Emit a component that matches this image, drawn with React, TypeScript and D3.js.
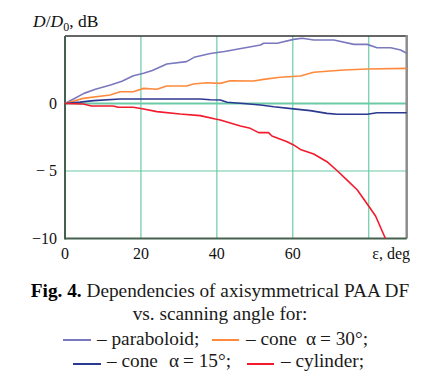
import React from 'react';
import * as d3 from 'd3';

// scanning angle (deg) and D/D0 (dB)
const paraboloidX = [0, 2, 5, 8, 12, 15, 18, 20.7, 23, 26.8, 32, 34, 38.3, 42, 46, 51.5, 52.3, 55.9, 60.2, 62.5, 65.5, 70.8, 76.1, 79.6, 82.2, 85.8, 88.4, 90];
const paraboloidY = [0, 0.3, 0.75, 1.05, 1.37, 1.65, 2.05, 2.24, 2.45, 2.93, 3.1, 3.42, 3.7, 3.85, 4.05, 4.33, 4.46, 4.46, 4.75, 4.83, 4.7, 4.7, 4.38, 4.38, 4.13, 4.13, 3.96, 3.72];

const cone30X = [0, 4.8, 11.9, 14.5, 18, 20.7, 24.2, 26.8, 32.1, 33.8, 37.4, 40.9, 43.5, 49.6, 52.3, 56.7, 62, 65.5, 73.4, 79.6, 90];
const cone30Y = [0, 0.38, 0.63, 0.87, 0.87, 1.12, 1.05, 1.3, 1.3, 1.44, 1.54, 1.49, 1.69, 1.67, 1.79, 1.94, 2.04, 2.31, 2.48, 2.56, 2.6];

const cone15X = [0, 4, 7.5, 14.5, 35.6, 38.3, 40.9, 42.7, 47, 51.5, 55, 60.2, 64.6, 69, 71.7, 79.6, 82.2, 90];
const cone15Y = [0, 0.1, 0.21, 0.33, 0.33, 0.28, 0.26, 0.09, 0, -0.11, -0.24, -0.4, -0.53, -0.73, -0.8, -0.8, -0.68, -0.68];

const cylinderX = [0, 4.8, 7, 12.7, 14, 18, 20.7, 24.2, 30.3, 35.6, 39.6, 40.9, 46.2, 48.8, 51, 53.6, 54.5, 58.5, 60.2, 62, 65.5, 69, 71.7, 74.3, 77, 79.6, 81.8, 84.4];
const cylinderY = [0, -0.04, -0.19, -0.19, -0.28, -0.28, -0.41, -0.6, -0.78, -0.9, -1.15, -1.22, -1.67, -1.84, -2.16, -2.16, -2.41, -2.83, -3.07, -3.4, -3.74, -4.31, -4.98, -5.67, -6.41, -7.44, -8.33, -10];

const xGrid = [20, 40, 60, 80];
const yGrid = [0, -5];
const xTickLabels = ['0', '20', '40', '60'];
const yTickLabels = [
  { v: 0, t: '0' },
  { v: -5, t: '\u2212 5' },
  { v: -10, t: '\u221210' },
];

const series = [
  { xs: paraboloidX, ys: paraboloidY, color: '#7a78be' },
  { xs: cone30X, ys: cone30Y, color: '#ff8a3d' },
  { xs: cone15X, ys: cone15Y, color: '#2b3990' },
  { xs: cylinderX, ys: cylinderY, color: '#f21a2c' },
];

const font = '"Liberation Serif", "Times New Roman", serif';

export default function App() {
  const x = d3.scaleLinear().domain([0, 90]).range([65, 406.7]);
  const y = d3.scaleLinear().domain([-10, 5]).range([238.5, 36]);
  const line = d3.line<[number, number]>()
    .x(d => x(d[0]))
    .y(d => y(d[1]));

  const [x0, x1] = x.range();
  const [y0, y1] = y.range();

  return (
    <div style={{ position: 'absolute', left: 0, top: 0 }}>
      <svg width={430} height={386} style={{ display: 'block', background: '#fff' }}>
        {/* grid */}
        {xGrid.map(g => (
          <line key={'gx' + g} x1={x(g)} x2={x(g)} y1={y1} y2={y0} stroke="#6ccba6" strokeWidth={1.2} />
        ))}
        {yGrid.map(g => (
          <line key={'gy' + g} x1={x0} x2={x1} y1={y(g)} y2={y(g)} stroke="#6ccba6" strokeWidth={g === 0 ? 2.2 : 1.2} />
        ))}
        {/* frame */}
        <line x1={x0} x2={x1} y1={y1} y2={y1} stroke="#333" strokeWidth={1.5} />
        <line x1={x1} x2={x1} y1={y1 - 1} y2={y0} stroke="#8c8c8c" strokeWidth={2.5} />
        <line x1={x0} x2={x1} y1={y0} y2={y0} stroke="#44604f" strokeWidth={2} />
        <line x1={x0} x2={x0} y1={y1} y2={y0 + 1} stroke="#44604f" strokeWidth={2} />

        {/* curves */}
        {series.map((s, i) => (
          <path
            key={i}
            d={line(s.xs.map((v, j) => [v, s.ys[j]] as [number, number])) || ''}
            fill="none"
            stroke={s.color}
            strokeWidth={1.6}
            strokeLinejoin="round"
          />
        ))}

        {/* tick labels */}
        <g fontFamily={font} fontSize={16} fill="#111">
          {yTickLabels.map(t => (
            <text key={t.t} x={57} y={y(t.v) + 5} textAnchor="end">{t.t}</text>
          ))}
          {xTickLabels.map(t => (
            <text key={t} x={x(+t)} y={259} textAnchor="middle">{t}</text>
          ))}
          <text x={410} y={259} textAnchor="end">ε, deg</text>
        </g>
        <text x={33} y={27} fontFamily={font} fontSize={17.5} fill="#111">
          <tspan fontStyle="italic">D</tspan>
          <tspan>/</tspan>
          <tspan fontStyle="italic">D</tspan>
          <tspan fontSize={12} dy={4}>0</tspan>
          <tspan dy={-4}>, dB</tspan>
        </text>

        {/* caption */}
        <g fontFamily={font} fontSize={19.3} fill="#1a1a1a" textAnchor="middle">
          <text x={220} y={297}>
            <tspan fontWeight="bold" fill="#000">Fig. 4.</tspan> Dependencies of axisymmetrical PAA DF
          </text>
          <text x={220} y={320}>vs. scanning angle for:</text>
        </g>
        <g fontFamily={font} fontSize={19.3} fill="#1a1a1a">
          <line x1={63} x2={91} y1={340} y2={340} stroke={series[0].color} strokeWidth={2} />
          <text x={97} y={345}>– paraboloid;</text>
          <line x1={212} x2={239} y1={340} y2={340} stroke={series[1].color} strokeWidth={2} />
          <text y={345}>
            <tspan x={246}>– cone</tspan>
            <tspan x={306}>α</tspan>
            <tspan x={320}>= 30°;</tspan>
          </text>
          <line x1={73} x2={101} y1={364} y2={364} stroke={series[2].color} strokeWidth={2} />
          <text y={367}>
            <tspan x={107}>– cone</tspan>
            <tspan x={169}>α</tspan>
            <tspan x={183}>= 15°;</tspan>
          </text>
          <line x1={247} x2={274} y1={364} y2={364} stroke={series[3].color} strokeWidth={2} />
          <text x={281} y={367}>– cylinder;</text>
        </g>
      </svg>
    </div>
  );
}
